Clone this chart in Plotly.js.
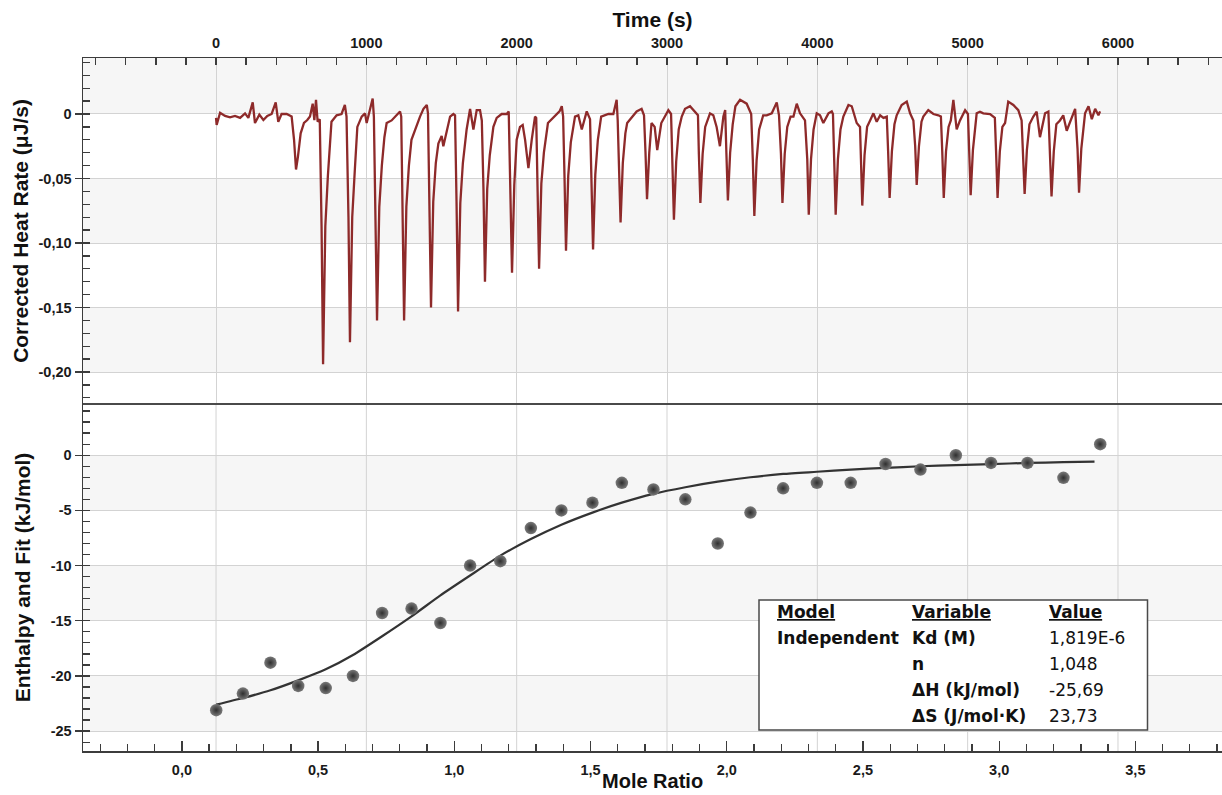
<!DOCTYPE html>
<html>
<head>
<meta charset="utf-8">
<script src="https://cdn.plot.ly/plotly-3.0.1.min.js"></script>
<style>html,body{margin:0;padding:0;background:#fff}#chart{width:1222px;height:795px}</style>
</head>
<body>
<div id="chart"></div>
<script>
// ---------------- DATA ----------------
// Raw thermogram: time (s) and corrected heat rate (µJ/s)
const heatTime = [
0,4,27,60,93,126,160,193,215,244,259,288,315,341,370,397,414,436,470,503,519,532,545,563,585,607,625,643,654,665,676,690,
702,712,727,744,768,802,835,857,868,
881,891,906,923,940,969,991,1002,1024,1042,1050,
1061,1071,1086,1103,1120,1135,1168,1202,1224,1232,
1241,1251,1266,1283,1300,1324,1357,1380,1402,1410,
1420,1430,1445,1462,1479,1501,1512,1535,1557,1579,1590,
1600,1610,1625,1642,1667,1690,1712,1734,1756,1768,
1779,1789,1804,1821,1845,1867,1900,1934,1947,
1959,1969,1984,2000,2022,2040,2056,2078,2100,2122,2130,
2139,2149,2164,2181,2208,2241,2264,2285,2300,2309,
2318,2328,2343,2360,2388,2410,2433,2466,2488,
2498,2508,2523,2540,2562,2610,2643,2665,2672,
2681,2691,2706,2723,2735,2765,2798,2831,2847,
2857,2867,2882,2897,2918,2935,2962,2985,3009,3027,
3036,3046,3061,3078,3098,3120,3153,3175,3198,3206,
3212,3222,3237,3254,3286,3308,3330,3352,3375,3387,
3395,3405,3420,3437,3455,3486,3530,3560,
3571,3581,3596,3613,3640,3663,3697,3730,3745,
3758,3768,3783,3800,3822,3841,3863,3885,3918,
3933,3943,3958,3975,3996,4018,4040,4074,4096,4104,
4112,4122,4137,4154,4173,4207,4229,4262,4284,
4291,4299,4314,4331,4351,4373,4395,4418,4440,4462,
4471,4481,4496,4513,4528,4561,4595,4617,4639,
4651,4661,4676,4693,4705,4738,4772,4805,4822,
4831,4841,4856,4873,4888,4905,4927,4949,4983,5002,
5010,5020,5035,5052,5060,5082,5104,5149,5171,5181,
5189,5199,5214,5231,5249,5270,5304,5337,5359,
5369,5379,5394,5411,5437,5459,5481,5515,5537,
5548,5558,5573,5590,5614,5636,5659,5692,5715,
5731,5741,5756,5773,5781,5804,5826,5848,5870,5881
];
const heatRate = [
-0.003,-0.0085,0.001,-0.0015,-0.0026,-0.0015,-0.003,0.0005,-0.003,0.009,-0.007,-0.0005,-0.0047,-0.0015,0,0.009,-0.006,0,0,-0.002,-0.020,-0.043,-0.033,-0.015,-0.007,-0.0047,-0.002,0.008,-0.0047,0.011,-0.006,-0.004,
-0.087,-0.194,-0.087,-0.048,-0.006,-0.001,0,0.007,-0.002,
-0.080,-0.177,-0.080,-0.044,-0.010,-0.002,0.0005,-0.007,0.003,0.012,-0.002,
-0.072,-0.160,-0.072,-0.040,-0.018,-0.007,-0.005,-0.001,0.002,-0.002,
-0.072,-0.160,-0.072,-0.040,-0.020,-0.012,-0.002,0.004,0.007,0.0005,
-0.068,-0.150,-0.068,-0.038,-0.023,-0.017,-0.025,-0.012,-0.002,0,-0.001,
-0.069,-0.153,-0.069,-0.038,-0.012,0.004,-0.012,0.003,0.003,-0.005,
-0.058,-0.130,-0.058,-0.032,-0.010,-0.003,0,0,0.002,
-0.055,-0.123,-0.055,-0.020,-0.010,-0.0085,-0.020,-0.042,-0.020,-0.002,-0.003,
-0.054,-0.120,-0.054,-0.030,-0.007,-0.003,-0.001,0.002,0.006,-0.002,
-0.048,-0.106,-0.048,-0.022,-0.002,-0.001,-0.012,0.002,-0.004,
-0.047,-0.105,-0.047,-0.020,-0.002,0,0,0.011,-0.005,
-0.038,-0.084,-0.038,-0.015,-0.007,-0.003,0.002,0.004,-0.001,
-0.030,-0.066,-0.030,-0.007,-0.010,-0.028,-0.007,-0.002,0.003,0,
-0.037,-0.082,-0.037,-0.012,-0.002,0.004,0.006,0.003,0,-0.001,
-0.031,-0.069,-0.031,-0.010,0.0005,-0.001,-0.010,-0.025,-0.002,0.003,
-0.030,-0.067,-0.030,-0.008,0.006,0.011,0.008,0,
-0.036,-0.079,-0.036,-0.012,-0.001,-0.001,0.0005,0.009,-0.001,
-0.031,-0.069,-0.031,-0.010,-0.002,-0.002,0.008,0.0005,-0.005,
-0.035,-0.078,-0.035,-0.012,0.0005,-0.001,-0.007,0.0005,0.002,0,
-0.035,-0.078,-0.035,-0.012,-0.002,0.007,0.006,-0.007,-0.010,
-0.032,-0.071,-0.032,-0.010,-0.005,0.0005,-0.006,-0.001,-0.003,-0.002,
-0.029,-0.065,-0.029,-0.008,-0.001,0.007,0.0096,0.0005,-0.005,
-0.025,-0.055,-0.025,-0.006,-0.002,0.003,0,-0.001,-0.002,
-0.029,-0.065,-0.029,-0.010,-0.005,0.011,-0.012,-0.005,0.003,0,
-0.028,-0.063,-0.028,-0.008,0.0005,0.0018,0.0005,0,-0.002,-0.003,
-0.029,-0.065,-0.029,-0.010,-0.007,0.0096,0.007,0.003,-0.005,
-0.028,-0.062,-0.028,-0.008,-0.002,0.0018,-0.018,0.0005,0.0018,
-0.029,-0.064,-0.029,-0.008,-0.005,-0.001,-0.013,-0.002,0.004,
-0.027,-0.061,-0.027,-0.006,0.0005,0.006,-0.004,0.004,-0.001,0.002
];

// Integrated heats (kJ/mol) vs mole ratio
const moleRatio = [0.126,0.224,0.325,0.427,0.528,0.628,0.735,0.843,0.949,1.058,1.169,1.281,1.393,1.507,1.615,1.731,1.848,1.967,2.087,2.207,2.331,2.455,2.583,2.711,2.841,2.970,3.104,3.236,3.371];
const enthalpy  = [-23.1,-21.6,-18.8,-20.9,-21.1,-20.0,-14.3,-13.9,-15.2,-10.0,-9.6,-6.6,-5.0,-4.3,-2.5,-3.1,-4.0,-8.0,-5.2,-3.0,-2.5,-2.5,-0.8,-1.3,0.0,-0.7,-0.7,-2.05,1.0];

// Fitted curve
const fitMoleRatio = [0.126,0.224,0.325,0.427,0.528,0.628,0.735,0.843,0.949,1.058,1.169,1.281,1.393,1.507,1.615,1.731,1.848,1.967,2.087,2.207,2.331,2.455,2.583,2.711,2.841,2.970,3.104,3.236,3.35];
const fitEnthalpy  = [-22.6,-22.0,-21.3,-20.4,-19.4,-18.1,-16.4,-14.6,-12.7,-10.9,-9.1,-7.6,-6.3,-5.2,-4.3,-3.5,-2.9,-2.4,-2.0,-1.7,-1.5,-1.3,-1.15,-1.0,-0.9,-0.8,-0.7,-0.63,-0.58];

// Tick values and labels
const timeTickVals = [0,1000,2000,3000,4000,5000,6000];
const timeTickText = ['0','1000','2000','3000','4000','5000','6000'];
const heatTickVals = [0,-0.05,-0.10,-0.15,-0.20];
const heatTickText = ['0','-0,05','-0,10','-0,15','-0,20'];
const moleTickVals = [0,0.5,1.0,1.5,2.0,2.5,3.0,3.5];
const moleTickText = ['0,0','0,5','1,0','1,5','2,0','2,5','3,0','3,5'];
const enthTickVals = [0,-5,-10,-15,-20,-25];
const enthTickText = ['0','-5','-10','-15','-20','-25'];

// Fit results table
const tableHeaders   = ['Model','Variable','Value'];
const tableModel     = ['Independent','','','',''];
const tableVariables = ['Kd (M)','n','ΔH (kJ/mol)','ΔS (J/mol·K)'];
const tableValues    = ['1,819E-6','1,048','-25,69','23,73'];

// ---------------- LAYOUT ----------------
const W = 1222, H = 795, ML = 83, MR = 0, MT = 58, MB = 44;
const plotW = W - ML - MR, plotH = H - MT - MB;
const fx = p => (p - ML) / plotW;
const fy = p => (H - MB - p) / plotH;
const split = fy(404);

const timeRange = [-885, 6692];
const heatRange = [-0.2248, 0.0434];
const moleRange = [-0.363, 3.818];
const enthRange = [-26.8, 4.64];

const axisCol = '#3c3c3c', gridCol = '#d3d3d3', bandCol = '#f6f6f6';
const tickFont = {family: 'Liberation Sans, Arial, sans-serif', size: 14.5, color: '#1a1a1a', weight: 'bold'};
const titleFont = {family: 'Liberation Sans, Arial, sans-serif', size: 21, color: '#111', weight: 'bold'};
const tableFont = {family: 'DejaVu Sans, sans-serif', size: 17, color: '#111'};

const traces = [
  {x: heatTime, y: heatRate, xaxis: 'x', yaxis: 'y', type: 'scatter', mode: 'lines',
   line: {color: '#8e2a2a', width: 2.3}, hoverinfo: 'skip'},
  {x: fitMoleRatio, y: fitEnthalpy, xaxis: 'x2', yaxis: 'y2', type: 'scatter', mode: 'lines',
   line: {color: '#333333', width: 2.2, shape: 'spline', smoothing: 0.6}, hoverinfo: 'skip'},
  {x: moleRatio, y: enthalpy, xaxis: 'x2', yaxis: 'y2', type: 'scatter', mode: 'markers',
   marker: {size: 12.5, color: '#7a7a7a', gradient: {type: 'radial', color: '#2f2f2f'}, line: {width: 0}}, hoverinfo: 'skip'}
];

const shapes = [];
// alternating bands
[[0, heatRange[1]], [-0.10, -0.05], [-0.20, -0.15]].forEach(b => shapes.push({
  type: 'rect', xref: 'paper', yref: 'y', x0: 0, x1: 1, y0: b[0], y1: b[1],
  fillcolor: bandCol, line: {width: 0}, layer: 'below'}));
[[-5, 0], [-15, -10], [-25, -20]].forEach(b => shapes.push({
  type: 'rect', xref: 'paper', yref: 'y2', x0: 0, x1: 1, y0: b[0], y1: b[1],
  fillcolor: bandCol, line: {width: 0}, layer: 'below'}));
// time grid continues into lower panel
timeTickVals.forEach(t => shapes.push({
  type: 'line', xref: 'x', yref: 'paper', x0: t, x1: t, y0: 0, y1: split,
  line: {color: gridCol, width: 1}, layer: 'below'}));
// separator between panels
shapes.push({type: 'line', xref: 'paper', yref: 'paper', x0: 0, x1: 1, y0: split, y1: split,
  line: {color: '#4a4a4a', width: 2}, layer: 'above'});
// table box
shapes.push({type: 'rect', xref: 'paper', yref: 'paper', x0: fx(759), x1: fx(1147.5), y0: fy(730), y1: fy(600),
  fillcolor: '#ffffff', line: {color: '#4a4a4a', width: 1.5}, layer: 'above'});

const annotations = [];
const colX = [775, 909.5, 1046.5];
const rowY = [612, 638, 663.5, 689.5, 716];
function cell(text, col, row, bold) {
  annotations.push({xref: 'paper', yref: 'paper', x: fx(colX[col]), y: fy(rowY[row]),
    xanchor: 'left', yanchor: 'middle', showarrow: false,
    text: bold ? '<b>' + text + '</b>' : text, font: tableFont});
}
tableHeaders.forEach((h, i) => cell('<u>' + h + '</u>', i, 0, true));
tableModel.forEach((m, i) => { if (m) cell(m, 0, i + 1, true); });
tableVariables.forEach((v, i) => cell(v, 1, i + 1, true));
tableValues.forEach((v, i) => cell(v, 2, i + 1, false));
// lower x-axis title placed just above the bottom edge
annotations.push({xref: 'paper', yref: 'paper', x: 0.5, y: fy(794), xanchor: 'center', yanchor: 'bottom',
  showarrow: false, text: 'Mole Ratio', font: Object.assign({}, titleFont, {size: 20})});

const layout = {
  width: W, height: H,
  margin: {l: ML, r: MR, t: MT, b: MB, pad: 0},
  paper_bgcolor: '#ffffff', plot_bgcolor: '#ffffff',
  showlegend: false,
  xaxis: {
    domain: [0, 1], anchor: 'y', side: 'top', range: timeRange, automargin: false,
    tickmode: 'array', tickvals: timeTickVals, ticktext: timeTickText,
    ticks: 'inside', ticklen: 7, tickwidth: 1.3, tickcolor: axisCol, ticklabelstandoff: 3,
    tickfont: tickFont,
    minor: {tickmode: 'linear', tick0: 0, dtick: 200, ticks: 'inside', ticklen: 7, tickwidth: 1.3, tickcolor: axisCol, showgrid: false},
    showline: true, linecolor: axisCol, linewidth: 1.5,
    showgrid: true, gridcolor: gridCol, gridwidth: 1, zeroline: false,
    title: {text: 'Time (s)', font: titleFont, standoff: 1}
  },
  yaxis: {
    domain: [split, 1], anchor: 'x', range: heatRange, automargin: false,
    tickmode: 'array', tickvals: heatTickVals, ticktext: heatTickText,
    ticks: 'outside', ticklen: 7, tickwidth: 1.3, tickcolor: axisCol,
    tickfont: tickFont,
    minor: {tickmode: 'linear', tick0: 0, dtick: 0.01, ticks: 'inside', ticklen: 7, tickwidth: 1.3, tickcolor: axisCol, showgrid: false},
    showline: true, linecolor: axisCol, linewidth: 1.5,
    showgrid: true, gridcolor: gridCol, gridwidth: 1, zeroline: false,
    title: {text: 'Corrected Heat Rate (μJ/s)', font: titleFont, standoff: 4}
  },
  xaxis2: {
    domain: [0, 1], anchor: 'y2', side: 'bottom', range: moleRange, automargin: false,
    tickmode: 'array', tickvals: moleTickVals, ticktext: moleTickText,
    ticks: 'inside', ticklen: 10, tickwidth: 1.3, tickcolor: axisCol, ticklabelstandoff: 5,
    tickfont: tickFont,
    minor: {tickmode: 'linear', tick0: 0, dtick: 0.1, ticks: 'inside', ticklen: 7, tickwidth: 1.3, tickcolor: axisCol, showgrid: false},
    showline: true, linecolor: axisCol, linewidth: 1.5,
    showgrid: false, zeroline: false
  },
  yaxis2: {
    domain: [0, split], anchor: 'x2', range: enthRange, automargin: false,
    tickmode: 'array', tickvals: enthTickVals, ticktext: enthTickText,
    ticks: 'outside', ticklen: 7, tickwidth: 1.3, tickcolor: axisCol,
    tickfont: tickFont,
    minor: {tickmode: 'linear', tick0: 0, dtick: 1, ticks: 'inside', ticklen: 7, tickwidth: 1.3, tickcolor: axisCol, showgrid: false},
    showline: true, linecolor: axisCol, linewidth: 1.5,
    showgrid: true, gridcolor: gridCol, gridwidth: 1, zeroline: false,
    title: {text: 'Enthalpy and Fit (kJ/mol)', font: titleFont, standoff: 14}
  },
  shapes: shapes,
  annotations: annotations
};

Plotly.newPlot('chart', traces, layout, {staticPlot: true, displayModeBar: false});
</script>
</body>
</html>
